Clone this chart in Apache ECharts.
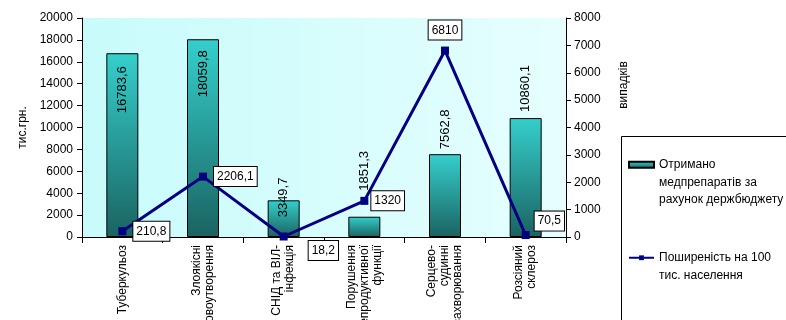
<!DOCTYPE html>
<html>
<head>
<meta charset="utf-8">
<script src="https://cdn.jsdelivr.net/npm/echarts@6/dist/echarts.min.js"></script>
<style>
  html, body { margin: 0; padding: 0; background: #fff; }
  #main { width: 786px; height: 320px; }
</style>
</head>
<body>
<div id="main"></div>
<script>
// категорії захворювань
var categories = [
  'Туберкульоз',
  'Злоякісні\nновоутворення',
  'СНІД та ВІЛ-\nінфекція',
  'Порушення\nрепродуктивної\nфункції',
  'Серцево-\nсудинні\nзахворювання',
  'Розсіяний\nсклероз'
];
// тис. грн
var fundsValues = [16783.6, 18059.8, 3349.7, 1851.3, 7562.8, 10860.1];
// випадків на 100 тис.
var prevalenceValues = [210.8, 2206.1, 18.2, 1320, 6810, 70.5];

var leftTicks = { min: 0, max: 20000, interval: 2000 };
var rightTicks = { min: 0, max: 8000, interval: 1000 };

var barLabelSet = [
  { position: 'insideTop', align: 'right', distance: 13 },
  { position: 'insideTop', align: 'right', distance: 11 },
  { position: 'top', align: 'left', distance: -17 },
  { position: 'top', align: 'left', distance: 26 },
  { position: 'top', align: 'left', distance: 5 },
  { position: 'top', align: 'left', distance: 6 }
];
var lineLabelSet = [
  { position: 'right', offset: [2, 0] },
  { position: 'right', offset: [2, 0] },
  { position: 'right', offset: [16, 14] },
  { position: 'right', offset: [-2, 0] },
  { position: 'top', offset: [0, -2] },
  { position: 'right', offset: [0, -14] }
];

function comma(v) {
  return String(v).replace('.', ',');
}

var font = 'Liberation Sans';

var chart = echarts.init(document.getElementById('main'), null, { renderer: 'canvas' });

var option = {
  animation: false,
  textStyle: { fontFamily: font },
  grid: {
    left: 82, right: 220, top: 18, bottom: 83,
    outerBoundsMode: 'none',
    containLabel: false,
    show: true,
    borderWidth: 0,
    backgroundColor: new echarts.graphic.LinearGradient(0, 0, 1, 0, [
      { offset: 0, color: '#c8fbfb' },
      { offset: 1, color: '#e6fefe' }
    ])
  },
  legend: {
    orient: 'vertical',
    left: 628,
    top: 121,
    padding: 0,
    itemGap: 23,
    itemWidth: 25,
    itemHeight: 6,
    textStyle: { fontFamily: font, fontSize: 12, color: '#000', lineHeight: 17.5 },
    data: [
      { name: 'funds', icon: 'rect' },
      { name: 'prev' }
    ],
    formatter: function (n) {
      // порожні рядки зверху, щоб значок стояв навпроти першого рядка
      return n === 'funds'
        ? '\n\nОтримано\nмедпрепаратів за\nрахунок держбюджету'
        : '\nПоширеність на 100\nтис. населення';
    }
  },
  graphic: [
    {
      type: 'rect', left: 621, top: 136, z: -1,
      shape: { width: 220, height: 220 },
      style: { fill: '#fff', stroke: '#000', lineWidth: 1 }
    },
    {
      type: 'text', x: 624, y: 85, rotation: Math.PI / 2,
      style: { text: 'випадків', fontFamily: font, fontSize: 12, fill: '#000', align: 'center', verticalAlign: 'middle' }
    }
  ],
  xAxis: {
    type: 'category',
    data: categories,
    axisLine: { lineStyle: { color: '#000', width: 1 } },
    axisTick: { show: true, length: 6, lineStyle: { color: '#000' } },
    axisLabel: { rotate: 90, margin: 8, fontSize: 12, color: '#000', lineHeight: 13, fontFamily: font }
  },
  yAxis: [
    {
      type: 'value',
      min: leftTicks.min, max: leftTicks.max, interval: leftTicks.interval,
      name: 'тис.грн.',
      nameLocation: 'middle',
      nameRotate: 90,
      nameGap: 45,
      nameTextStyle: { fontSize: 12, color: '#000', fontFamily: font },
      axisLine: { show: true, lineStyle: { color: '#000' } },
      axisTick: { show: true, length: 5, lineStyle: { color: '#000' } },
      axisLabel: { fontSize: 12, color: '#000', margin: 9, fontFamily: font, formatter: function (v) { return String(v); } },
      splitLine: { show: false }
    },
    {
      type: 'value',
      position: 'right',
      min: rightTicks.min, max: rightTicks.max, interval: rightTicks.interval,
      axisLine: { show: true, lineStyle: { color: '#000' } },
      axisTick: { show: true, length: 5, lineStyle: { color: '#000' } },
      axisLabel: { fontSize: 12, color: '#000', margin: 8, fontFamily: font, formatter: function (v) { return String(v); } },
      splitLine: { show: false }
    }
  ],
  series: [
    {
      name: 'funds',
      type: 'bar',
      yAxisIndex: 0,
      barWidth: 32,
      itemStyle: {
        color: new echarts.graphic.LinearGradient(0, 0, 0, 1, [
          { offset: 0, color: '#35cfcc' },
          { offset: 1, color: '#1a6361' }
        ]),
        borderColor: '#000',
        borderWidth: 1
      },
      data: fundsValues.map(function (v, i) {
        var s = barLabelSet[i];
        return {
          value: v,
          label: {
            show: true, rotate: 90, position: s.position, align: s.align,
            verticalAlign: 'middle', distance: s.distance,
            fontSize: 13, color: '#000', fontFamily: font,
            formatter: function (p) { return comma(p.value); }
          }
        };
      })
    },
    {
      name: 'prev',
      type: 'line',
      yAxisIndex: 1,
      symbol: 'rect',
      symbolSize: 8,
      lineStyle: { color: '#000080', width: 3 },
      itemStyle: { color: '#000080' },
      z: 5,
      data: prevalenceValues.map(function (v, i) {
        var s = lineLabelSet[i];
        return {
          value: v,
          label: {
            show: true, position: s.position, offset: s.offset,
            backgroundColor: '#fff', borderColor: '#000', borderWidth: 1,
            padding: [4, 3, 3, 3], fontSize: 12, color: '#000', fontFamily: font,
            formatter: function (p) { return comma(p.value); }
          }
        };
      })
    }
  ]
};

chart.setOption(option);
</script>
</body>
</html>
